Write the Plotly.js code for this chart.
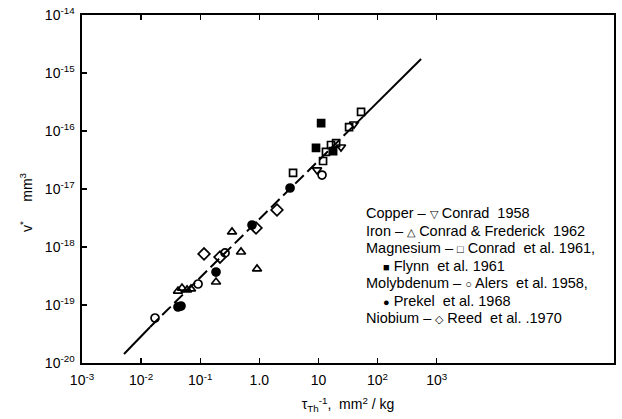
<!DOCTYPE html>
<html>
<head>
<meta charset="utf-8">
<script src="https://cdn.plot.ly/plotly-3.0.1.min.js"></script>
<style>html,body{margin:0;padding:0;background:#fff;}#chart{width:622px;height:419px;}</style>
</head>
<body>
<div id="chart"></div>
<script>
// ---- data (x: 1/tau_Th in mm^2/kg, y: v* in mm^3) ----
const copperX = [9.47, 24.1, 40.0];
const copperY = [2.13e-17, 5.3e-17, 1.32e-16];

const ironX = [0.0421, 0.0492, 0.0599, 0.0698, 0.185, 0.345, 0.49, 0.914];
const ironY = [1.74e-19, 1.96e-19, 1.82e-19, 1.89e-19, 2.49e-19, 1.82e-18, 8.2e-19, 4.18e-19];

const mgConradX = [3.72, 11.97, 13.4, 16.3, 19.9, 33.0, 52.6];
const mgConradY = [1.89e-17, 3.04e-17, 4.35e-17, 5.74e-17, 6.2e-17, 1.17e-16, 2.13e-16];

const mgFlynnX = [11.1, 9.1, 17.7];
const mgFlynnY = [1.37e-16, 5.1e-17, 4.5e-17];

const moAlersX = [0.0172, 0.092, 0.263, 11.5];
const moAlersY = [5.97e-20, 2.3e-19, 7.9e-19, 1.74e-17];

const moPrekelX = [0.0421, 0.0473, 0.185, 0.752, 3.31];
const moPrekelY = [9.25e-20, 9.6e-20, 3.7e-19, 2.39e-18, 1.04e-17];

const nbReedX = [0.116, 0.216, 0.879, 1.99];
const nbReedY = [7.6e-19, 6.7e-19, 2.13e-18, 4.35e-18];

// fitted line: solid ends, dashed middle
const fitX = [0.00514, 0.0142, 56.9, 545];
const fitY = [1.43e-20, 4.18e-20, 1.77e-16, 1.74e-15];

const xTickVals = [1e-3, 1e-2, 1e-1, 1, 10, 100, 1000];
const xTickText = ['10<sup>-3</sup>', '10<sup>-2</sup>', '10<sup>-1</sup>', '1.0', '10', '10<sup>2</sup>', '10<sup>3</sup>'];
const yTickVals = [1e-20, 1e-19, 1e-18, 1e-17, 1e-16, 1e-15, 1e-14];
const yTickText = ['10<sup>-20</sup>', '10<sup>-19</sup>', '10<sup>-18</sup>', '10<sup>-17</sup>', '10<sup>-16</sup>', '10<sup>-15</sup>', '10<sup>-14</sup>'];

const legendLines = [
  'Copper – ▽ Conrad  1958',
  'Iron – △ Conrad & Frederick  1962',
  'Magnesium – □ Conrad  et al. 1961,',
  '■ Flynn  et al. 1961',
  'Molybdenum – ○ Alers  et al. 1958,',
  '● Prekel  et al. 1968',
  'Niobium – ◇ Reed  et al. .1970'
];

// ---- drawing ----
const FONT = 'Liberation Sans, Arial, sans-serif';
function pts(x, y, symbol, name, size) {
  return {
    x: x, y: y, type: 'scatter', mode: 'markers', name: name,
    marker: {symbol: symbol, size: size || 8, color: '#000',
             line: {color: '#000', width: 1.7}},
    showlegend: false, hoverinfo: 'x+y'
  };
}
const traces = [
  {x: fitX.slice(0, 2), y: fitY.slice(0, 2), type: 'scatter', mode: 'lines',
   line: {color: '#000', width: 2}, showlegend: false, hoverinfo: 'skip'},
  {x: fitX.slice(1, 3), y: fitY.slice(1, 3), type: 'scatter', mode: 'lines',
   line: {color: '#000', width: 2, dash: '12px,5px'}, showlegend: false, hoverinfo: 'skip'},
  {x: fitX.slice(2, 4), y: fitY.slice(2, 4), type: 'scatter', mode: 'lines',
   line: {color: '#000', width: 2}, showlegend: false, hoverinfo: 'skip'},
  pts(copperX, copperY, 'triangle-down-open', 'Copper – Conrad 1958'),
  pts(ironX, ironY, 'triangle-up-open', 'Iron – Conrad & Frederick 1962'),
  pts(mgConradX, mgConradY, 'square-open', 'Magnesium – Conrad et al. 1961', 7),
  pts(mgFlynnX, mgFlynnY, 'square', 'Magnesium – Flynn et al. 1961', 7),
  pts(moAlersX, moAlersY, 'circle-open', 'Molybdenum – Alers et al. 1958'),
  pts(moPrekelX, moPrekelY, 'circle', 'Molybdenum – Prekel et al. 1968'),
  pts(nbReedX, nbReedY, 'diamond-open', 'Niobium – Reed et al. 1970', 9)
];

const SYM = /([▽△□■○●◇])/g;
const annotations = legendLines.map((t, i) => {
  const indent = (t.startsWith('■') || t.startsWith('●'));
  return {
    xref: 'paper', yref: 'paper', x: indent ? 0.562 : 0.53,
    y: 0.431 - i * 0.0503, xanchor: 'left', yanchor: 'middle',
    text: t.replace(SYM, '<span style="font-size:11px">$1</span>'),
    showarrow: false, font: {family: FONT, size: 14.5, color: '#000'}
  };
});
annotations.push({
  xref: 'paper', yref: 'paper', x: -0.105, y: 0.463, textangle: -90,
  xanchor: 'center', yanchor: 'middle', showarrow: false,
  text: 'v<sup>*</sup>     mm<sup>3</sup>', font: {family: FONT, size: 14, color: '#000'}
});

const layout = {
  width: 622, height: 419,
  margin: {l: 82, r: 8, t: 15, b: 56, pad: 0},
  paper_bgcolor: '#fff', plot_bgcolor: '#fff',
  showlegend: false,
  font: {family: FONT, size: 14, color: '#000'},
  xaxis: {
    type: 'log', range: [-3, 6], tickvals: xTickVals, ticktext: xTickText,
    ticks: 'inside', ticklen: 5, tickwidth: 1.3, tickcolor: '#000',
    showline: true, linecolor: '#000', linewidth: 1.6, mirror: 'ticks',
    showgrid: false, zeroline: false, ticklabelstandoff: 4,
    tickfont: {family: FONT, size: 14, color: '#000'},
    title: {text: 'τ<sub>Th</sub><sup>-1</sup>,  mm<sup>2</sup> / kg', standoff: 12,
            font: {family: FONT, size: 14, color: '#000'}}
  },
  yaxis: {
    type: 'log', range: [-20, -14], tickvals: yTickVals, ticktext: yTickText,
    ticks: 'inside', ticklen: 5, tickwidth: 1.3, tickcolor: '#000',
    showline: true, linecolor: '#000', linewidth: 1.6, mirror: true,
    showgrid: false, zeroline: false, ticklabelstandoff: 3,
    tickfont: {family: FONT, size: 14, color: '#000'}
  },
  annotations: annotations
};

Plotly.newPlot('chart', traces, layout, {displayModeBar: false, staticPlot: true});
</script>
</body>
</html>
